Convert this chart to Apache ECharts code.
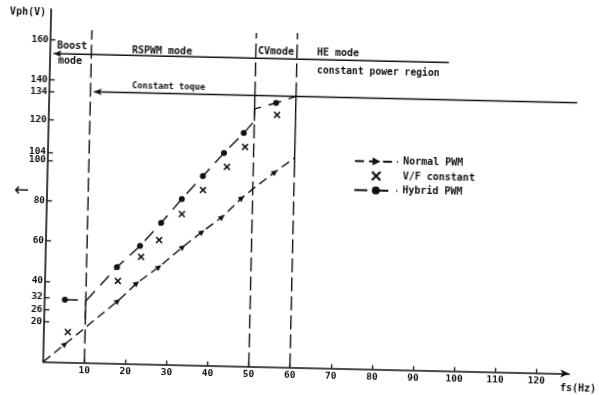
<!DOCTYPE html>
<html>
<head>
<meta charset="utf-8">
<script src="https://cdn.jsdelivr.net/npm/echarts@6/dist/echarts.min.js"></script>
<style>
  html, body { margin: 0; padding: 0; width: 599px; height: 395px; overflow: hidden; background: #fff; }
  /* the scan is turned slightly clockwise, so the whole chart is too */
  #chart { position: absolute; left: -20px; top: -20px; width: 639px; height: 435px; transform: rotate(1.3deg); }
</style>
</head>
<body>
<div id="chart"></div>
<script>
// stator frequency (Hz) / phase voltage (V)
const normalF = [0, 5.2, 10.2, 17.8, 22.3, 27.6, 33.3, 37.9, 42.7, 47.4, 50, 55.3, 60];
const normalV = [0, 9, 17.7, 31, 40, 48.3, 58.5, 66.2, 73.8, 83.5, 88, 96.7, 104];
const normalMark = [0, 1, 0, 1, 1, 1, 1, 1, 1, 1, 0, 1, 0];

const vfF = [5.8, 17.7, 23.2, 27.5, 32.9, 37.9, 43.6, 47.9, 55.5];
const vfV = [15, 40.9, 53.1, 61.7, 74.8, 87, 98.7, 108.8, 125.1];

const hybridF = [4.9, 10.2, 17.4, 22.9, 27.9, 32.8, 37.8, 42.8, 47.5, 50, 50, 55.2, 60];
const hybridV = [31, 31, 47.8, 58.5, 70.2, 82.3, 93.9, 105.6, 115.7, 121.8, 127.8, 131, 134.5];
const hybridMark = [1, 0, 1, 1, 1, 1, 1, 1, 1, 0, 0, 1, 0];

// mode boundaries
const boundF = [10, 50, 60];
const boundTop = [165, 165.5, 166];
const boundSolidFrom = [22, 122, 97];
const boundSolidTo = [31, 134.5, 134.5];
const modeLineV = 153;
const modeLineF = [0.8, 97];
const torqueV = 134.5;
const torqueF = [10.8, 140];

const xTicks = [10, 20, 30, 40, 50, 60, 70, 80, 90, 100, 110, 120];
const yTicks = [20, 26, 32, 40, 60, 80, 100, 104, 120, 134, 140, 160];

const legendNames = ['Normal PWM', 'V/F constant', 'Hybrid PWM'];

// screen position in the picture -> position inside the turned div
const OFF = 20, ANG = 1.3 * Math.PI / 180;
const CX = 299.5, CY = 197.5;
function local(X, Y) {
    const dx = X - CX, dy = Y - CY;
    const c = Math.cos(ANG), s = Math.sin(ANG);
    return [CX + OFF + dx * c + dy * s, CY + OFF - dx * s + dy * c];
}

const INK = '#111';
const FONT = 'DejaVu Sans Mono';
const X_PATH = 'path://M0,1.6L1.6,0L5,3.4L8.4,0L10,1.6L6.6,5L10,8.4L8.4,10L5,6.6L1.6,10L0,8.4L3.4,5Z';

const origin = local(43.3, 361.7);
const plotW = 128 * 4.11;
const plotH = 175 * 2.015;

function seg(points, dashed, extra) {
    return Object.assign({
        type: 'line',
        data: points,
        symbol: 'none',
        silent: true,
        animation: false,
        itemStyle: { color: INK, opacity: 1 },
        lineStyle: { color: INK, width: 1.4, type: dashed ? [14, 5] : 'solid' },
    }, extra || {});
}

const deco = [];
boundF.forEach((f, i) => {
    if (i === 0) {
        deco.push(seg([[f, 0], [f, boundTop[i]]], true));
    } else {
        deco.push(seg([[f, 0], [f, boundSolidFrom[i]]], true));
        deco.push(seg([[f, boundSolidTo[i]], [f, boundTop[i]]], true));
    }
    deco.push(seg([[f, boundSolidFrom[i]], [f, boundSolidTo[i]]], false));
});
deco.push(seg([
    { value: [modeLineF[0], modeLineV], symbol: 'arrow', symbolRotate: 90, symbolSize: [5, 8] },
    { value: [modeLineF[1], modeLineV] },
], false));
deco.push(seg([
    { value: [torqueF[0], torqueV], symbol: 'arrow', symbolRotate: 90, symbolSize: [5, 8] },
    { value: [torqueF[1], torqueV] },
], false, { clip: false }));

const notes = [
    ['Vph(V)', 10, 12, 10],
    ['fs(Hz)', 560, 388, 10],
    ['Boost', 57, 46, 10],
    ['mode', 58, 61, 10],
    ['RSPWM mode', 132, 50.5, 10],
    ['CVmode', 258, 51.5, 10],
    ['HE mode', 317, 53, 10],
    ['constant power region', 317, 70.5, 9.7],
    ['Constant toque', 132, 85.5, 8.7],
    ['\u2190', 14, 191, 18],
];

const legendPos = local(354, 161);

const chart = echarts.init(document.getElementById('chart'));
chart.setOption({
    animation: false,
    backgroundColor: '#fff',
    grid: {
        left: origin[0],
        top: origin[1] - plotH,
        width: plotW,
        height: plotH,
        outerBoundsMode: 'none',
    },
    legend: {
        data: legendNames,
        orient: 'vertical',
        left: legendPos[0],
        top: legendPos[1] - 5,
        padding: 0,
        itemWidth: 43,
        itemHeight: 10,
        itemGap: 4.5,
        symbolRotate: -90,
        textStyle: { fontFamily: FONT, fontWeight: 'bold', fontSize: 10, color: INK, lineHeight: 10 },
    },
    xAxis: {
        type: 'value',
        min: 0,
        max: 128,
        axisLine: {
            lineStyle: { color: INK, width: 1.6 },
            symbol: ['none', 'arrow'],
            symbolSize: [6, 9],
        },
        axisTick: { inside: true, length: 4, customValues: xTicks, lineStyle: { color: INK, width: 1.3 } },
        axisLabel: {
            customValues: xTicks,
            margin: 3,
            fontFamily: FONT, fontWeight: 'bold', fontSize: 9.5, color: INK,
        },
        splitLine: { show: false },
    },
    yAxis: {
        type: 'value',
        min: 0,
        max: 175,
        axisLine: { show: true, lineStyle: { color: INK, width: 1.6 } },
        axisTick: { show: true, inside: true, length: 5, customValues: yTicks, lineStyle: { color: INK, width: 1.3 } },
        axisLabel: {
            customValues: yTicks,
            margin: 2,
            fontFamily: FONT, fontWeight: 'bold', fontSize: 9.5, color: INK,
        },
        splitLine: { show: false },
    },
    graphic: notes.map(([t, X, Y, fs]) => {
        const p = local(X, Y);
        return {
            type: 'text',
            x: p[0],
            y: p[1],
            silent: true,
            style: {
                text: t,
                fill: INK,
                font: (t === '\u2190' ? '' : 'bold ') + fs + 'px "' + (t === '\u2190' ? 'DejaVu Sans' : FONT) + '"',
                verticalAlign: 'middle',
            },
        };
    }),
    series: [
        {
            name: legendNames[0],
            type: 'line',
            data: normalF.map((f, i) => ({ value: [f, normalV[i]], symbol: normalMark[i] ? 'triangle' : 'none' })),
            symbol: 'triangle',
            symbolSize: 6,
            symbolRotate: -50,
            showAllSymbol: true,
            itemStyle: { color: INK, opacity: 1 },
            lineStyle: { color: INK, width: 1.4, type: [9, 5] },
        },
        {
            name: legendNames[1],
            type: 'scatter',
            data: vfF.map((f, i) => [f, vfV[i]]),
            symbol: X_PATH,
            symbolSize: 7,
            itemStyle: { color: INK, opacity: 1 },
        },
        {
            name: legendNames[2],
            type: 'line',
            data: hybridF.map((f, i) => ({ value: [f, hybridV[i]], symbol: hybridMark[i] ? 'circle' : 'none' })),
            symbol: 'circle',
            symbolSize: 6,
            showAllSymbol: true,
            itemStyle: { color: INK, opacity: 1 },
            lineStyle: { color: INK, width: 1.4, type: [13, 8] },
        },
        ...deco,
    ],
});
</script>
</body>
</html>
